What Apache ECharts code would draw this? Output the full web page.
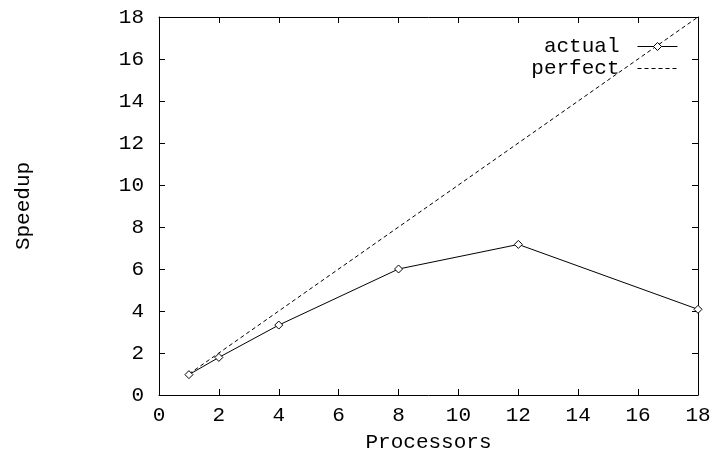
<!DOCTYPE html>
<html>
<head>
<meta charset="utf-8">
<script src="https://cdn.jsdelivr.net/npm/echarts@6/dist/echarts.min.js"></script>
<style>html,body{margin:0;padding:0;background:#fff}#c{width:712px;height:454px}</style>
</head>
<body>
<div id="c"></div>
<script>
const processors = [1, 2, 4, 8, 12, 18];
const actualSpeedup = [0.97, 1.79, 3.33, 6.0, 7.17, 4.08];
const perfectX = [1, 18];
const perfectY = [1, 18];
const xTicks = [0, 2, 4, 6, 8, 10, 12, 14, 16, 18];
const yTicks = [0, 2, 4, 6, 8, 10, 12, 14, 16, 18];

const FONT = '"Liberation Mono", "DejaVu Sans Mono", monospace';
const FS = 21;
const chart = echarts.init(document.getElementById('c'));
const tickStyle = {inside: true, length: 6, lineStyle: {color: '#000', width: 1}};
const baseAxis = (pos) => ({
  type: 'value', min: xTicks[0], max: xTicks[xTicks.length - 1], interval: 2,
  position: pos,
  splitLine: {show: false},
  axisLine: {show: true, onZero: false, lineStyle: {color: '#000', width: 1}},
  axisTick: tickStyle
});
const legendText = {fontFamily: FONT, fontSize: FS, color: '#000', padding: [0, 13, 0, 0], lineHeight: 21};
chart.setOption({
  animation: false,
  grid: {left: 159, right: 14, top: 17, bottom: 59, show: false, outerBoundsMode: 'none', containLabel: false},
  legend: [
    {data: ['actual'], right: 34, top: 36, orient: 'vertical', align: 'right',
     itemWidth: 40, itemHeight: 10, padding: 0, textStyle: legendText,
     lineStyle: {width: 1},
     itemStyle: {color: '#fff', borderColor: '#000', borderWidth: 1}},
    {data: ['perfect'], right: 34, top: 58, orient: 'vertical', align: 'right',
     itemWidth: 40, itemHeight: 10, padding: 0, textStyle: legendText,
     lineStyle: {width: 1}, itemStyle: {opacity: 0}}
  ],
  xAxis: [
    Object.assign(baseAxis('bottom'), {
      name: 'Processors', nameLocation: 'middle', nameGap: 37,
      nameTextStyle: {fontFamily: FONT, fontSize: FS, color: '#000'},
      axisLabel: {fontFamily: FONT, fontSize: FS, color: '#000', margin: 10,
        formatter: v => xTicks.includes(v) ? String(v) : ''}
    }),
    Object.assign(baseAxis('top'), {axisLabel: {show: false}})
  ],
  yAxis: [
    Object.assign(baseAxis('left'), {
      min: yTicks[0], max: yTicks[yTicks.length - 1],
      name: 'Speedup', nameLocation: 'middle', nameGap: 125, nameRotate: 90,
      nameTextStyle: {fontFamily: FONT, fontSize: FS, color: '#000'},
      axisLabel: {fontFamily: FONT, fontSize: FS, color: '#000', margin: 15,
        formatter: v => yTicks.includes(v) ? String(v) : ''}
    }),
    Object.assign(baseAxis('right'), {min: yTicks[0], max: yTicks[yTicks.length - 1], axisLabel: {show: false}})
  ],
  series: [
    {name: 'actual', type: 'line', xAxisIndex: 0, yAxisIndex: 0,
     data: processors.map((p, i) => [p, actualSpeedup[i]]),
     symbol: 'diamond', symbolSize: 8, showAllSymbol: true,
     itemStyle: {color: '#fff', borderColor: '#000', borderWidth: 1},
     lineStyle: {color: '#000', width: 1}},
    {name: 'perfect', type: 'line', xAxisIndex: 0, yAxisIndex: 0,
     data: perfectX.map((x, i) => [x, perfectY[i]]),
     symbol: 'none',
     itemStyle: {color: '#000'},
     lineStyle: {color: '#000', width: 1, type: [4, 3]}}
  ]
});
</script>
</body>
</html>
